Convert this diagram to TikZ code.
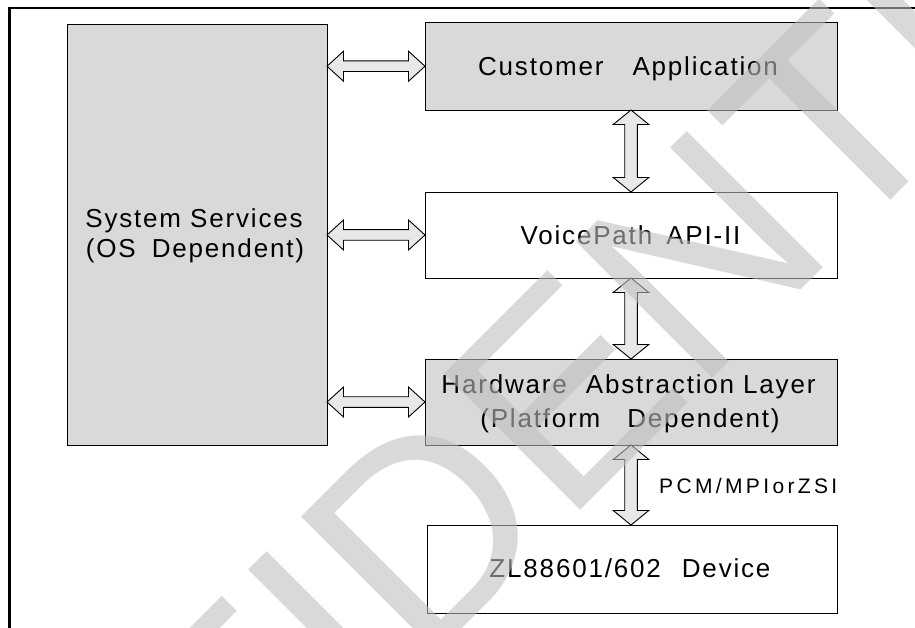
\documentclass[tikz,border=0pt]{standalone}
\usepackage{fontspec}
\setmainfont{Liberation Sans}
\newfontfamily\lblfont[LetterSpace=7]{Liberation Sans}
\newfontfamily\pcmfont[LetterSpace=16]{Liberation Sans}
\newfontfamily\wmfont{Liberation Sans}
\usetikzlibrary{calc}
\definecolor{boxgray}{RGB}{217,217,217}
\definecolor{arrowgray}{RGB}{232,232,232}
\definecolor{wmgray}{RGB}{190,190,190}
\newcommand{\harrow}[2]{%
  \draw[blockarrow] (#1) -- ++(16.5,15) -- ++(0,-9.7) -- ($(#2)+(-16.5,5.3)$) -- ++(0,9.7) -- (#2)
    -- ++(-16.5,-15) -- ++(0,9.7) -- ($(#1)+(16.5,-5.3)$) -- ++(0,-9.7) -- cycle;}
\newcommand{\varrow}[2]{%
  \draw[blockarrow] (#1) -- ++(17.8,-14.5) -- ++(-11.5,0) -- ($(#2)+(6.3,14.5)$) -- ++(11.5,0) -- (#2)
    -- ++(-17.8,14.5) -- ++(11.5,0) -- ($(#1)+(-6.3,-14.5)$) -- ++(-11.5,0) -- cycle;}
\begin{document}
\begin{tikzpicture}[x=1pt,y=1pt,
  box/.style={draw=black, line width=0.9pt, rectangle, inner sep=0pt, outer sep=0pt, anchor=north west},
  graybox/.style={box, fill=boxgray},
  whitebox/.style={box, fill=white},
  lbl/.style={anchor=base, inner sep=0pt, font=\lblfont\fontsize{26}{30}\selectfont},
  blockarrow/.style={draw=black, line width=0.9pt, fill=arrowgray, line join=miter},
]
\useasboundingbox (0,0) rectangle (915,-628);
\fill[white] (0,0) rectangle (915,-628);
\draw[line width=2.5pt] (9.5,-628) -- (9.5,-8) -- (915,-8);

% boxes
\node[graybox, minimum width=260pt, minimum height=420.5pt] (ss) at (67,-24.5) {};
\node[graybox, minimum width=412pt, minimum height=87.5pt] (ca) at (425,-22.5) {};
\node[whitebox, minimum width=412pt, minimum height=86pt] (vp) at (425,-192) {};
\node[graybox, minimum width=412pt, minimum height=86pt] (hal) at (425,-359) {};
\node[whitebox, minimum width=410pt, minimum height=88pt] (dev) at (427,-525) {};

% labels
\node[lbl] (ss1) at (194,-227.5) {System Services};
\node[lbl] (ss2) at (195,-258) {(OS\hspace{16pt}Dependent)};
\node[lbl] (cat) at (628,-75.5) {Customer\hspace{29pt}Application};
\node[lbl] (vpt) at (630.5,-244) {VoicePath\hspace{14pt}API-II};
\node[lbl] (hal1) at (628.5,-393) {Hardware\hspace{19pt}Abstraction Layer};
\node[lbl] (hal2) at (630,-427) {(Platform\hspace{27pt}Dependent)};
\node[lbl] (devt) at (630,-577) {ZL88601/602\hspace{21pt}Device};
\node[anchor=base west, inner sep=0pt, font=\pcmfont\fontsize{21}{25}\selectfont] (pcm) at (659,-493) {PCM/MPIorZSI};

% connectors
\coordinate (h1) at (ss.east |- ca.west);
\coordinate (h2) at (ss.east |- vp.west);
\coordinate (h3) at (ss.east |- hal.west);
\harrow{h1}{ca.west}
\harrow{h2}{vp.west}
\harrow{h3}{hal.west}
\coordinate (v3) at (hal.south |- dev.north);
\varrow{ca.south}{vp.north}
\varrow{vp.south}{hal.north}
\varrow{hal.south}{v3}

% watermark
\node[rotate=45, anchor=base west, inner sep=0pt, outer sep=0pt, text=wmgray, text opacity=0.58,
  font=\wmfont\fontsize{280}{280}\selectfont] (wm) at (-194.3,-1285.3) {CONFIDENTIAL};
\end{tikzpicture}
\end{document}
